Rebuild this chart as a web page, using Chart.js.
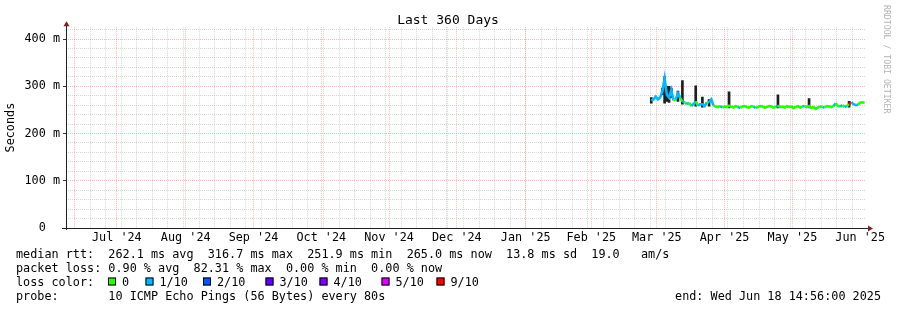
<!DOCTYPE html>
<html><head><meta charset="utf-8">
<script src="https://cdn.jsdelivr.net/npm/chart.js@4/dist/chart.umd.min.js"></script>
<style>html,body{margin:0;padding:0;background:#fff}#wrap{width:897px;height:310px;position:relative}</style>
</head><body><div id="wrap"><canvas id="c" width="897" height="310"></canvas></div>
<script>
// ---- data ----
const rangeStart = '2024-06-23T14:56:00Z';
const rangeDays = 360;
const firstSampleDate = '2025-03-14';
const medianMs = [
  270,272,278,272,276,290,316.7,282,276,292,
  270,272,285,275,268,266,262,265,258,262,
  268,259,262,262,258,266,266,272,259,257,
  256,258,255,257,256,259,257,255,258,256,
  254,257,258,256,255,258,257,254,256,258,
  257,255,256,258,257,255,256,259,256,257,
  255,258,256,257,254,256,258,255,257,258,
  256,258,254,256,251.9,255,257,256,255,258,
  257,256,258,264,258,257,260,256,258,262,
  266,262,260,261,265,266,265
];
const lossTenths = [
  1,1,1,1,1,1,1,1,1,1,
  1,0,1,1,0,1,0,1,0,1,
  1,0,1,1,1,1,0,1,1,0,
  0,0,1,0,0,0,0,0,0,0,
  1,0,0,0,0,0,0,1,0,0,
  0,0,0,0,0,0,0,1,0,0,
  0,0,0,0,0,0,0,0,0,1,
  0,0,0,0,0,0,0,0,1,0,
  0,0,0,1,0,0,1,0,1,0,
  9,1,1,1,0,0,0
];
const smokeIndex  = [0,  5,  6,  7,  8,  9,  12, 14, 20, 23, 26, 35, 57, 71, 89];
const smokeLowMs  = [264,282,264,268,266,276,268,262,258,256,258,254,254,254,256];
const smokeHighMs = [276,296,320,300,300,296,290,312,301,277,272,288,282,274,268];

const yLabelTicks = [0,100,200,300,400];
const yMax = 425;
const monthStarts = ['2024-07-01','2024-08-01','2024-09-01','2024-10-01','2024-11-01','2024-12-01',
                     '2025-01-01','2025-02-01','2025-03-01','2025-04-01','2025-05-01','2025-06-01','2025-07-01'];
const monthLabels = ["Jul '24","Aug '24","Sep '24","Oct '24","Nov '24","Dec '24",
                     "Jan '25","Feb '25","Mar '25","Apr '25","May '25","Jun '25"];
const firstWeekLine = '2024-06-24';
const lossLegendLabels = ['0','1/10','2/10','3/10','4/10','5/10','9/10'];
const lossLegendColors = ['#26ff00','#00b8ff','#0059ff','#5e00ff','#7e00ff','#dd00ff','#ff0000'];

// ---- helpers ----
const DAY = 864e5;
const t0 = Date.parse(rangeStart);
const dayOf = s => (Date.parse(s + 'T00:00:00Z') - t0) / DAY;
const firstDay = dayOf(firstSampleDate);
function lossColor(l){
  if (l <= 0) return lossLegendColors[0];
  if (l <= 4) return lossLegendColors[l];
  if (l <= 8) return lossLegendColors[5];
  return lossLegendColors[6];
}
const monthDays = monthStarts.map(dayOf);
const monthSet = monthDays.filter(d => d >= 0 && d <= rangeDays);
const gridDays = [...monthSet];
for (let d = dayOf(firstWeekLine); d <= rangeDays; d += 7) gridDays.push(d);
const labelDays = monthLabels.map((_, i) => (monthDays[i] + monthDays[i+1]) / 2);
const yGrid = [];
for (let v = 0; v <= 420; v += 20) yGrid.push(v);

const medianPts = medianMs.map((v, i) => ({x: firstDay + i, y: v}));
const smokePts = smokeIndex.map((idx, k) => ({x: firstDay + idx, y: [smokeLowMs[k], smokeHighMs[k]]}));

const MONO = '"DejaVu Sans Mono", "Liberation Mono", monospace';
const FS = 11.8;
const majorGrid = 'rgba(255,0,0,0.27)';
const minorGrid = 'rgba(140,140,140,0.36)';
const tv = c => (c && c.tick) ? c.tick.value : null;
const isMonth = v => v !== null && monthSet.some(m => Math.abs(m - v) < 1e-6);
const isYMajor = v => v !== null && yLabelTicks.includes(v);

const decor = {
  id: 'decor',
  afterDraw(chart){
    const ctx = chart.ctx, a = chart.chartArea;
    ctx.save();
    // axes
    ctx.strokeStyle = '#222'; ctx.lineWidth = 1;
    ctx.beginPath();
    ctx.moveTo(a.left + 0.5, a.bottom + 2); ctx.lineTo(a.left + 0.5, a.top - 4);
    ctx.moveTo(a.left - 4, a.bottom + 0.5); ctx.lineTo(a.right + 4, a.bottom + 0.5);
    ctx.stroke();
    ctx.fillStyle = '#7f1f1f';
    ctx.beginPath();
    ctx.moveTo(a.left + 0.5, a.top - 6); ctx.lineTo(a.left - 2.5, a.top - 1); ctx.lineTo(a.left + 3.5, a.top - 1); ctx.closePath(); ctx.fill();
    ctx.beginPath();
    ctx.moveTo(a.right + 7, a.bottom + 0.5); ctx.lineTo(a.right + 2, a.bottom - 2.5); ctx.lineTo(a.right + 2, a.bottom + 3.5); ctx.closePath(); ctx.fill();
    // title
    ctx.fillStyle = '#000';
    ctx.font = '13px ' + MONO;
    ctx.textAlign = 'center'; ctx.textBaseline = 'alphabetic';
    ctx.fillText('Last 360 Days', 448, 24);
    // legend
    ctx.font = FS + 'px ' + MONO;
    ctx.textAlign = 'left';
    ctx.fillText('median rtt:  262.1 ms avg  316.7 ms max  251.9 ms min  265.0 ms now  13.8 ms sd  19.0   am/s', 16, 258);
    ctx.fillText('packet loss: 0.90 % avg  82.31 % max  0.00 % min  0.00 % now', 16, 272);
    ctx.fillText('loss color:', 16, 286);
    const boxX = [108, 145.5, 203, 265.5, 319.5, 381.5, 436.5];
    lossLegendLabels.forEach((lab, i) => {
      ctx.fillStyle = lossLegendColors[i];
      ctx.fillRect(boxX[i], 277.5, 8, 8);
      ctx.strokeStyle = '#000';
      ctx.strokeRect(boxX[i] + 0.5, 277.5 + 0.5, 7, 7);
      ctx.fillStyle = '#000';
      ctx.fillText(lab, boxX[i] + 14, 286);
    });
    ctx.fillText('probe:       10 ICMP Echo Pings (56 Bytes) every 80s', 16, 300);
    ctx.textAlign = 'right';
    ctx.fillText('end: Wed Jun 18 14:56:00 2025', 881, 300);
    // watermark
    ctx.save();
    ctx.translate(884, 5);
    ctx.rotate(Math.PI / 2);
    ctx.textAlign = 'left';
    ctx.font = '8.2px ' + MONO;
    ctx.fillStyle = '#b4b4b4';
    ctx.textBaseline = 'middle';
    ctx.fillText('RRDTOOL / TOBI OETIKER', 0, -2.5);
    ctx.restore();
    ctx.restore();
  }
};

new Chart(document.getElementById('c'), {
  type: 'bar',
  data: {
    datasets: [
      {
        type: 'line', label: 'median', data: medianPts, order: 0,
        borderWidth: 2.6, pointRadius: 0, tension: 0,
        borderColor: lossColor(0),
        segment: { borderColor: c => lossColor(lossTenths[c.p1DataIndex]) }
      },
      {
        type: 'bar', label: 'smoke', data: smokePts, order: 1,
        backgroundColor: '#1e1e1e', borderWidth: 0, barThickness: 2
      }
    ]
  },
  options: {
    responsive: false, animation: false, devicePixelRatio: 1,
    layout: { padding: { top: 27.2, right: 31, left: 0, bottom: 0 } },
    plugins: { legend: { display: false }, tooltip: { enabled: false } },
    scales: {
      x: {
        type: 'linear', min: 0, max: rangeDays, offset: false, position: 'bottom',
        afterBuildTicks: s => { s.ticks = gridDays.map(v => ({ value: v })); },
        grid: { color: c => isMonth(tv(c)) ? majorGrid : minorGrid, drawTicks: false, lineWidth: 1 },
        border: { display: false, dash: [1, 1] },
        ticks: { display: false },
        afterFit: s => { s.height = 0; }
      },
      xl: {
        type: 'linear', min: 0, max: rangeDays, offset: false, position: 'bottom',
        afterBuildTicks: s => { s.ticks = labelDays.map(v => ({ value: v })); },
        grid: { display: false, drawTicks: false },
        border: { display: false },
        ticks: { autoSkip: false, maxRotation: 0, minRotation: 0, padding: 3, color: '#000',
                 font: { family: MONO, size: FS }, callback: (v, i) => monthLabels[i] },
        afterFit: s => { s.height = 82; }
      },
      y: {
        min: 0, max: yMax, position: 'left',
        afterBuildTicks: s => { s.ticks = yGrid.map(v => ({ value: v })); },
        grid: { color: c => isYMajor(tv(c)) ? majorGrid : minorGrid,
                tickColor: c => isYMajor(tv(c)) ? '#333' : 'rgba(0,0,0,0)',
                tickLength: 3, drawTicks: true, lineWidth: 1 },
        border: { display: false, dash: [1, 1] },
        ticks: { autoSkip: false, padding: 3, color: '#000', font: { family: MONO, size: FS },
                 callback: v => isYMajor(v) ? (v === 0 ? '0  ' : v + ' m') : '' },
        title: { display: true, text: 'Seconds', color: '#000', font: { family: MONO, size: FS }, padding: { top: 4, bottom: 0 } },
        afterFit: s => { s.width = 66; }
      }
    }
  },
  plugins: [decor]
});
</script>
</body></html>
